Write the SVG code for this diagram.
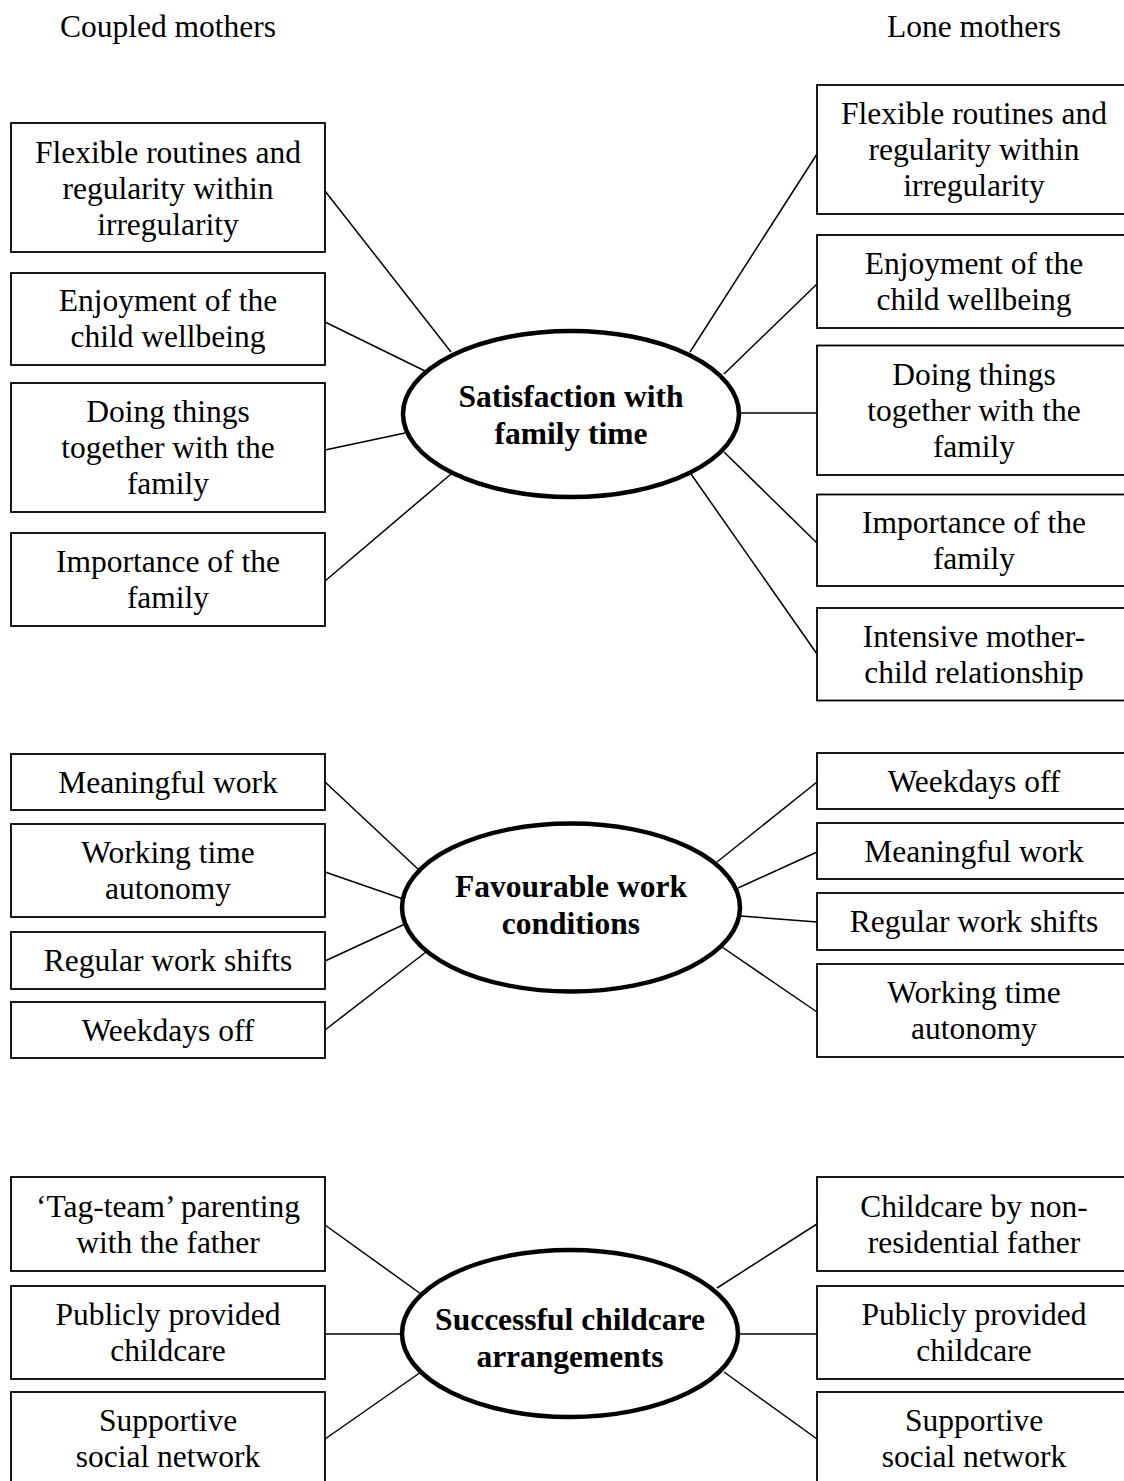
<svg xmlns="http://www.w3.org/2000/svg" width="1124" height="1481" viewBox="0 0 1124 1481">
<style>
.bg{fill:#fff}
.box{fill:#fff;stroke:#000;stroke-width:1.8}
.hub{fill:#fff;stroke:#000;stroke-width:4.5}
.ln{stroke:#000;stroke-width:1.5;fill:none}
text{font-family:'Liberation Serif',Tinos,'Times New Roman',Times,'DejaVu Serif',serif;font-size:31.5px;fill:#000;text-anchor:middle}
.b{font-weight:bold}
</style>
<rect class="bg" x="0" y="0" width="1124" height="1481"/>
<g id="headers" font-family="Liberation Serif, Tinos, Times New Roman, serif">
<text x="168" y="37">Coupled mothers</text>
<text x="974" y="37">Lone mothers</text>
</g>
<g id="connectors">
<line class="ln" x1="325" y1="191" x2="451" y2="352"/>
<line class="ln" x1="325" y1="322" x2="425" y2="371"/>
<line class="ln" x1="325" y1="450" x2="405" y2="433"/>
<line class="ln" x1="325" y1="581" x2="451" y2="474"/>
<line class="ln" x1="690" y1="352" x2="817" y2="154"/>
<line class="ln" x1="724" y1="374" x2="817" y2="284"/>
<line class="ln" x1="739" y1="413" x2="817" y2="413"/>
<line class="ln" x1="724" y1="452" x2="817" y2="543"/>
<line class="ln" x1="691" y1="474" x2="817" y2="654"/>
<line class="ln" x1="325" y1="782" x2="419" y2="870"/>
<line class="ln" x1="325" y1="872" x2="403" y2="899"/>
<line class="ln" x1="325" y1="961" x2="405" y2="924"/>
<line class="ln" x1="325" y1="1030" x2="426" y2="952"/>
<line class="ln" x1="717" y1="862" x2="817" y2="782"/>
<line class="ln" x1="738" y1="888" x2="817" y2="852"/>
<line class="ln" x1="740" y1="916" x2="817" y2="922"/>
<line class="ln" x1="722" y1="947" x2="817" y2="1012"/>
<line class="ln" x1="325" y1="1225" x2="421" y2="1294"/>
<line class="ln" x1="325" y1="1334" x2="403" y2="1334"/>
<line class="ln" x1="325" y1="1439" x2="421" y2="1372"/>
<line class="ln" x1="717" y1="1288" x2="817" y2="1224"/>
<line class="ln" x1="738" y1="1334" x2="817" y2="1334"/>
<line class="ln" x1="724" y1="1372" x2="817" y2="1439"/>
</g>
<g id="hub1"><ellipse class="hub" cx="571" cy="414" rx="168" ry="83"/>
<text class="b" x="571" y="407">Satisfaction with</text><text class="b" x="571" y="444">family time</text></g>
<g id="hub2"><ellipse class="hub" cx="571" cy="907.5" rx="169" ry="84"/>
<text class="b" x="571" y="897">Favourable work</text><text class="b" x="571" y="934">conditions</text></g>
<g id="hub3"><ellipse class="hub" cx="570" cy="1333.5" rx="168" ry="83.5"/>
<text class="b" x="570" y="1330">Successful childcare</text><text class="b" x="570" y="1367">arrangements</text></g>

<g id="c1"><rect class="box" x="11" y="123" width="314" height="129"/>
<text x="168" y="162.5">Flexible routines and</text><text x="168" y="198.5">regularity within</text><text x="168" y="234.5">irregularity</text></g>
<g id="c2"><rect class="box" x="11" y="273" width="314" height="92"/>
<text x="168" y="311">Enjoyment of the</text><text x="168" y="347">child wellbeing</text></g>
<g id="c3"><rect class="box" x="11" y="383" width="314" height="129"/>
<text x="168" y="422">Doing things</text><text x="168" y="458">together with the</text><text x="168" y="494">family</text></g>
<g id="c4"><rect class="box" x="11" y="533" width="314" height="93"/>
<text x="168" y="572">Importance of the</text><text x="168" y="608">family</text></g>

<g id="l1"><rect class="box" x="817" y="85" width="320" height="129"/>
<text x="974" y="124">Flexible routines and</text><text x="974" y="160">regularity within</text><text x="974" y="196">irregularity</text></g>
<g id="l2"><rect class="box" x="817" y="235" width="320" height="93"/>
<text x="974" y="274">Enjoyment of the</text><text x="974" y="310">child wellbeing</text></g>
<g id="l3"><rect class="box" x="817" y="345.5" width="320" height="129.5"/>
<text x="974" y="384.5">Doing things</text><text x="974" y="420.5">together with the</text><text x="974" y="456.5">family</text></g>
<g id="l4"><rect class="box" x="817" y="494.5" width="320" height="91.5"/>
<text x="974" y="532.5">Importance of the</text><text x="974" y="568.5">family</text></g>
<g id="l5"><rect class="box" x="817" y="608" width="320" height="92.5"/>
<text x="974" y="646.5">Intensive mother-</text><text x="974" y="682.5">child relationship</text></g>

<g id="c5"><rect class="box" x="11" y="754" width="314" height="56"/>
<text x="168" y="792.5">Meaningful work</text></g>
<g id="c6"><rect class="box" x="11" y="824" width="314" height="93"/>
<text x="168" y="863">Working time</text><text x="168" y="899">autonomy</text></g>
<g id="c7"><rect class="box" x="11" y="932" width="314" height="57"/>
<text x="168" y="971">Regular work shifts</text></g>
<g id="c8"><rect class="box" x="11" y="1002" width="314" height="56"/>
<text x="168" y="1040.5">Weekdays off</text></g>

<g id="l6"><rect class="box" x="817" y="753" width="320" height="56"/>
<text x="974" y="791.5">Weekdays off</text></g>
<g id="l7"><rect class="box" x="817" y="823" width="320" height="56"/>
<text x="974" y="861.5">Meaningful work</text></g>
<g id="l8"><rect class="box" x="817" y="893" width="320" height="57"/>
<text x="974" y="932">Regular work shifts</text></g>
<g id="l9"><rect class="box" x="817" y="964" width="320" height="93"/>
<text x="974" y="1003">Working time</text><text x="974" y="1039">autonomy</text></g>

<g id="c9"><rect class="box" x="11" y="1177" width="314" height="94"/>
<text x="168" y="1216.5">‘Tag-team’ parenting</text><text x="168" y="1252.5">with the father</text></g>
<g id="c10"><rect class="box" x="11" y="1286" width="314" height="93"/>
<text x="168" y="1325">Publicly provided</text><text x="168" y="1361">childcare</text></g>
<g id="c11"><rect class="box" x="11" y="1392" width="314" height="100"/>
<text x="168" y="1431">Supportive</text><text x="168" y="1467">social network</text></g>

<g id="l10"><rect class="box" x="817" y="1177" width="320" height="94"/>
<text x="974" y="1216.5">Childcare by non-</text><text x="974" y="1252.5">residential father</text></g>
<g id="l11"><rect class="box" x="817" y="1286" width="320" height="93"/>
<text x="974" y="1325">Publicly provided</text><text x="974" y="1361">childcare</text></g>
<g id="l12"><rect class="box" x="817" y="1392" width="320" height="100"/>
<text x="974" y="1431">Supportive</text><text x="974" y="1467">social network</text></g>
</svg>
